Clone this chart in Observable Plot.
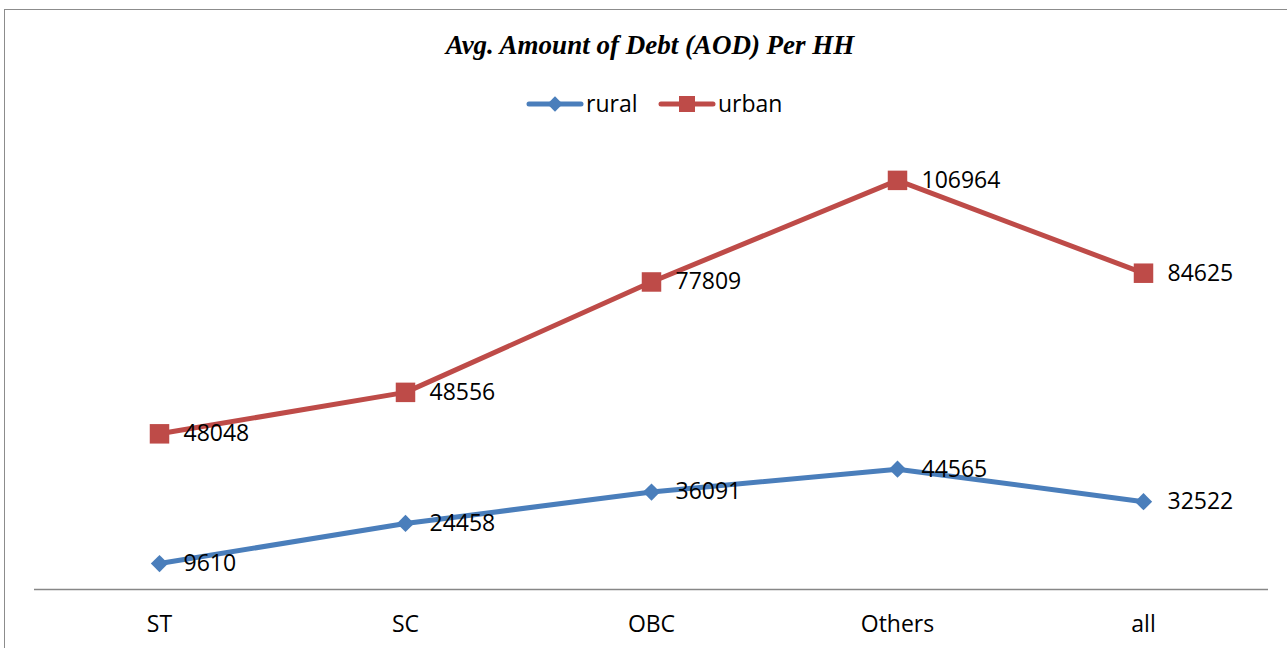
<!DOCTYPE html>
<html>
<head>
<meta charset="utf-8">
<script src="https://cdn.jsdelivr.net/npm/d3@7"></script>
<script src="https://cdn.jsdelivr.net/npm/@observablehq/plot@0.6"></script>
<style>
  html, body { margin: 0; padding: 0; background: #fff; }
  body { width: 1287px; height: 648px; position: relative; overflow: hidden; }
  #frame { position: absolute; left: 4px; top: 9px; width: 1300px; height: 660px; border: 1.5px solid #8c8c8c; box-sizing: border-box; }
  #title { position: absolute; left: 0; width: 1300px; top: 30px; text-align: center;
    font-family: "Liberation Serif", serif; font-weight: bold; font-style: italic; font-size: 27px; color: #000; }
  #legend { position: absolute; top: 84px; left: 0; width: 1287px; height: 40px; overflow: visible; }
  #chart { position: absolute; left: 0; top: 130px; }
</style>
</head>
<body>
<div id="frame"></div>
<div id="title">Avg. Amount of Debt (AOD) Per HH</div>
<svg id="legend" width="1287" height="40"></svg>
<div id="chart"></div>
<script>
const categories = ["ST", "SC", "OBC", "Others", "all"];
const rural = [9610, 24458, 36091, 44565, 32522];
const urban = [48048, 48556, 77809, 106964, 84625];
const seriesNames = ["rural", "urban"];
const seriesColors = {rural: "#4a7ebb", urban: "#be4b48"};

const data = [];
categories.forEach((c, i) => data.push({cat: c, series: "rural", value: rural[i]}));
categories.forEach((c, i) => data.push({cat: c, series: "urban", value: urban[i]}));

const col = d => seriesColors[d.series];

const plot = Plot.plot({
  width: 1287,
  height: 518,
  marginLeft: 34,
  marginRight: 19,
  marginTop: 27,
  marginBottom: 59,
  style: {fontFamily: "'Open Sans', sans-serif", background: "transparent", color: "#000"},
  x: {type: "point", domain: categories, padding: 0.5, label: null},
  y: {domain: [0, 160000], axis: null},
  color: {type: "identity"},
  marks: [
    Plot.ruleY([0], {stroke: "#878787", strokeWidth: 1.5}),
    Plot.axisX({tickSize: 0, tickPadding: 26, fontSize: 23, fill: "#000"}),
    Plot.lineY(data, Plot.stackY2({x: "cat", y: "value", z: "series", stroke: col, strokeWidth: 5, strokeLinejoin: "round", strokeLinecap: "round"})),
    Plot.dot(data, Plot.stackY2({x: "cat", y: "value", symbol: "diamond2", r: 7.8, fill: d => d.series === "rural" ? seriesColors.rural : "none", stroke: "none"})),
    Plot.dot(data, Plot.stackY2({x: "cat", y: "value", symbol: "square", r: 11, fill: d => d.series === "urban" ? seriesColors.urban : "none", stroke: "none"})),
    Plot.text(data, Plot.stackY2({x: "cat", y: "value", text: d => String(d.value), dx: 24, textAnchor: "start", fontSize: 23, fill: "#000"}))
  ]
});
document.getElementById("chart").appendChild(plot);

// legend
const lg = d3.select("#legend");
const legendItems = [
  {name: seriesNames[0], x0: 527, symbol: d3.symbolDiamond2, size: 150},
  {name: seriesNames[1], x0: 659, symbol: d3.symbolSquare, size: 256}
];
legendItems.forEach(it => {
  const g = lg.append("g");
  g.append("line").attr("x1", it.x0 + 2).attr("x2", it.x0 + 54).attr("y1", 20).attr("y2", 20)
    .attr("stroke", seriesColors[it.name]).attr("stroke-width", 5).attr("stroke-linecap", "round");
  g.append("path").attr("d", d3.symbol(it.symbol, it.size)()).attr("transform", `translate(${it.x0 + 28},20)`)
    .attr("fill", seriesColors[it.name]);
  g.append("text").attr("x", it.x0 + 59).attr("y", 20).attr("dy", "0.35em")
    .attr("font-family", "'Open Sans', sans-serif").attr("font-size", 23).attr("fill", "#000").text(it.name);
});
</script>
</body>
</html>
